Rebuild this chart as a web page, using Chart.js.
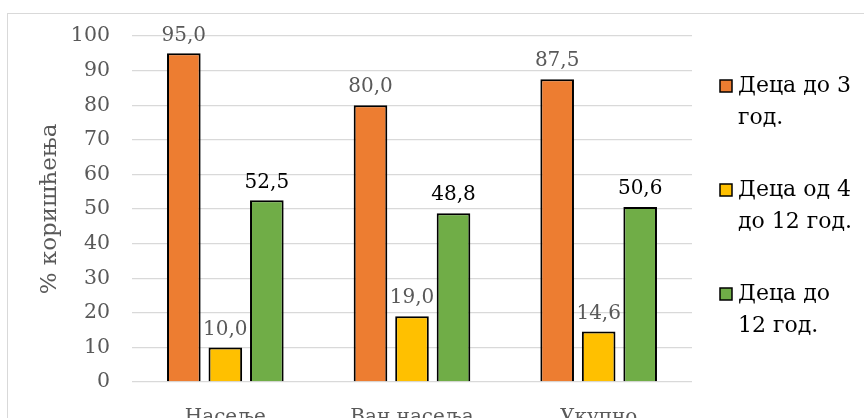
<!DOCTYPE html>
<html>
<head>
<meta charset="utf-8">
<script src="https://cdn.jsdelivr.net/npm/chart.js@4"></script>
<style>
  html, body { margin: 0; padding: 0; background: #fff; overflow: hidden; }
  #wrap { position: relative; width: 864px; height: 418px; overflow: hidden; }
  #frame { position: absolute; left: 7px; top: 13px; width: 900px; height: 500px;
           border: 1.5px solid #d9d9d9; box-sizing: border-box; }
  canvas { position: absolute; left: 0; top: 0; }
</style>
</head>
<body>
<div id="wrap">
  <div id="frame"></div>
  <canvas id="chart" width="864" height="440"></canvas>
</div>
<script>
const categories = ['Насеље', 'Ван насеља', 'Укупно'];
const seriesNames = [['Деца до 3', 'год.'], ['Деца од 4', 'до 12 год.'], ['Деца до', '12 год.']];
const under3 = [95.0, 80.0, 87.5];
const from4to12 = [10.0, 19.0, 14.6];
const under12 = [52.5, 48.8, 50.6];
const yTicks = [0, 10, 20, 30, 40, 50, 60, 70, 80, 90, 100];

const font = 'DejaVu Serif';
const colors = ['#ED7D31', '#FFC000', '#70AD47'];
const labelColors = ['#595959', '#595959', '#000000'];

const valueLabels = {
    id: 'valueLabels',
    afterDatasetsDraw(chart) {
        const ctx = chart.ctx;
        ctx.save();
        ctx.font = '20px "' + font + '"';
        ctx.textAlign = 'center';
        ctx.textBaseline = 'bottom';
        chart.data.datasets.forEach((ds, i) => {
            const meta = chart.getDatasetMeta(i);
            ctx.fillStyle = labelColors[i];
            meta.data.forEach((bar, j) => {
                ctx.fillText(ds.data[j].toFixed(1).replace('.', ','), bar.x, bar.y - 8);
            });
        });
        ctx.restore();
    }
};

const sideLegend = {
    id: 'sideLegend',
    afterDraw(chart) {
        const ctx = chart.ctx;
        const x0 = chart.chartArea.right + 28;
        ctx.save();
        ctx.font = '22px "' + font + '"';
        ctx.textBaseline = 'middle';
        chart.data.datasets.forEach((ds, i) => {
            const y = 86 + i * 104;
            ctx.fillStyle = ds.backgroundColor;
            ctx.fillRect(x0, y - 6, 12, 12);
            ctx.strokeStyle = '#000';
            ctx.lineWidth = 1.5;
            ctx.strokeRect(x0, y - 6, 12, 12);
            ctx.fillStyle = '#000';
            seriesNames[i].forEach((line, k) => {
                ctx.fillText(line, x0 + 18, y + k * 32);
            });
        });
        ctx.restore();
    }
};

new Chart(document.getElementById('chart').getContext('2d'), {
    type: 'bar',
    data: {
        labels: categories,
        datasets: [under3, from4to12, under12].map((values, i) => ({
            label: seriesNames[i].join(' '),
            data: values,
            backgroundColor: colors[i],
            borderColor: '#000',
            borderWidth: 2,
            categoryPercentage: 0.667,
            barPercentage: 0.81
        }))
    },
    options: {
        responsive: false,
        animation: false,
        layout: {
            padding: { left: 22, right: 172, top: 36, bottom: 0 }
        },
        scales: {
            x: {
                grid: { display: false },
                border: { display: false },
                ticks: {
                    color: '#595959',
                    font: { family: font, size: 20 },
                    padding: 16
                },
                afterFit(scale) { scale.height = 58; }
            },
            y: {
                min: 0,
                max: 100,
                afterBuildTicks(scale) { scale.ticks = yTicks.map(v => ({ value: v })); },
                grid: { color: '#d9d9d9', lineWidth: 1.3, drawTicks: false },
                border: { display: false },
                ticks: {
                    color: '#595959',
                    font: { family: font, size: 20.5 },
                    padding: 22
                },
                title: {
                    display: true,
                    text: '% коришћења',
                    color: '#595959',
                    font: { family: font, size: 23 },
                    padding: { top: 14, bottom: 0 }
                },
                afterFit(scale) { scale.width = 110; }
            }
        },
        plugins: {
            legend: { display: false },
            tooltip: { enabled: false }
        }
    },
    plugins: [valueLabels, sideLegend]
});
</script>
</body>
</html>
